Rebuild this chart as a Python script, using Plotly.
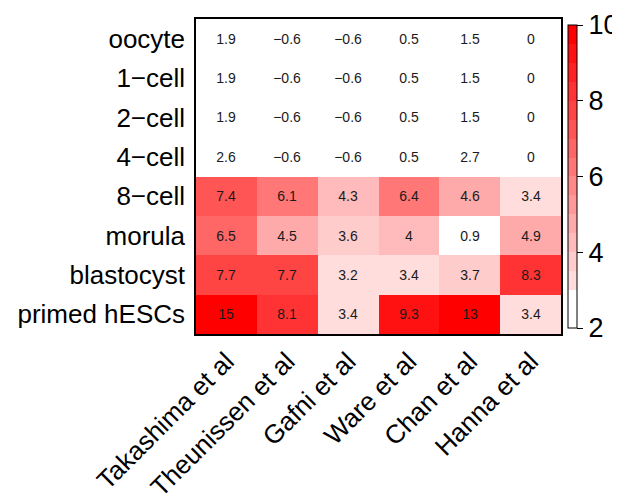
import plotly.graph_objects as go

studies = ["Takashima et al", "Theunissen et al", "Gafni et al", "Ware et al", "Chan et al", "Hanna et al"]
stages = ["oocyte", "1\u2212cell", "2\u2212cell", "4\u2212cell", "8\u2212cell", "morula", "blastocyst", "primed hESCs"]

oocyte = [1.9, -0.6, -0.6, 0.5, 1.5, 0]
cell1 = [1.9, -0.6, -0.6, 0.5, 1.5, 0]
cell2 = [1.9, -0.6, -0.6, 0.5, 1.5, 0]
cell4 = [2.6, -0.6, -0.6, 0.5, 2.7, 0]
cell8 = [7.4, 6.1, 4.3, 6.4, 4.6, 3.4]
morula = [6.5, 4.5, 3.6, 4, 0.9, 4.9]
blastocyst = [7.7, 7.7, 3.2, 3.4, 3.7, 8.3]
primed = [15, 8.1, 3.4, 9.3, 13, 3.4]

z = [oocyte, cell1, cell2, cell4, cell8, morula, blastocyst, primed]
text = [[f"{v:g}".replace("-", "\u2212") for v in row] for row in z]

# stepped white -> red scale, 16 bands from 2 to 10
n = 16
cs = []
for i in range(n):
    f = 0.0 if i < 2 else i / (n - 1)
    g = round(255 * (1 - f))
    col = f"rgb(255,{g},{g})"
    cs.append([i / n, col])
    cs.append([(i + 1) / n, col])

FONT = "Liberation Sans, Arial"

fig = go.Figure(go.Heatmap(
    z=z, x=studies, y=stages, text=text,
    texttemplate="%{text}",
    textfont=dict(size=14, color="#1a1a1a", family=FONT),
    colorscale=cs, zmin=2, zmax=10,
    colorbar=dict(
        x=(575 - 186) / 382, xanchor="left", xpad=0, ypad=0,
        y=0.5, yanchor="middle", len=303, lenmode="pixels",
        thickness=9, outlinewidth=1, outlinecolor="black",
        tickvals=[2, 4, 6, 8, 10], ticks="outside", ticklen=6,
        tickwidth=1, tickcolor="black",
        tickfont=dict(size=27, color="black", family=FONT),
    ),
    hoverongaps=False,
))

fig.update_layout(
    width=620, height=503,
    margin=dict(l=186, r=52, t=9, b=151),
    paper_bgcolor="white", plot_bgcolor="white",
    font=dict(family=FONT, color="black"),
    xaxis=dict(showline=True, mirror=True, linecolor="black", linewidth=1.5,
               ticks="", tickangle=-45, tickfont=dict(size=26, color="black"),
               showgrid=False, zeroline=False),
    yaxis=dict(showline=True, mirror=True, linecolor="black", linewidth=1.5,
               ticks="", autorange="reversed", tickfont=dict(size=26, color="black"),
               ticklabelstandoff=4, showgrid=False, zeroline=False),
)

fig.write_html("out.html")
